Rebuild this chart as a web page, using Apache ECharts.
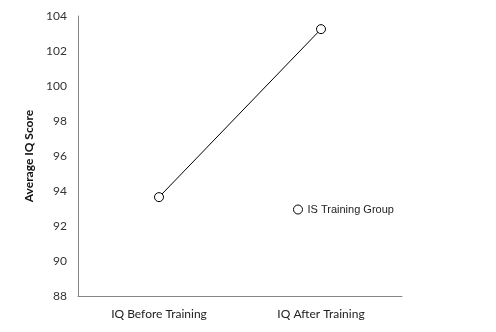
<!DOCTYPE html>
<html><head><meta charset="utf-8">
<script src="https://cdn.jsdelivr.net/npm/echarts@6/dist/echarts.min.js"></script>
<style>html,body{margin:0;padding:0;background:#fff}#c{width:496px;height:332px}</style>
</head><body><div id="c"></div>
<script>
const categories = ['IQ Before Training', 'IQ After Training'];
const seriesName = 'IS Training Group';
const avgIQ = [93.65, 103.25];
const yTicks = { min: 88, max: 104, interval: 2 };

const chart = echarts.init(document.getElementById('c'), null, { renderer: 'canvas' });
chart.setOption({
  animation: false,
  backgroundColor: '#fff',
  grid: { left: 78, right: 94, top: 16, bottom: 36 },
  xAxis: {
    type: 'category', data: categories, boundaryGap: true,
    axisLine: { lineStyle: { color: '#868686', width: 1 } },
    axisTick: { show: false },
    axisLabel: { color: '#222', fontFamily: 'Lato', fontSize: 12, margin: 12 }
  },
  yAxis: {
    type: 'value', min: yTicks.min, max: yTicks.max, interval: yTicks.interval,
    name: 'Average IQ Score', nameLocation: 'middle', nameGap: 37, nameRotate: 90,
    nameTextStyle: { color: '#111', fontFamily: 'Lato', fontWeight: 'bold', fontSize: 12 },
    axisLine: { show: true, lineStyle: { color: '#868686', width: 1 } },
    axisTick: { show: false },
    splitLine: { show: false },
    axisLabel: { color: '#333', fontFamily: 'Lato', fontSize: 12, margin: 11 }
  },
  legend: {
    left: 288, top: 199, icon: 'circle', itemWidth: 9, itemHeight: 9, itemGap: 5,
    textStyle: { fontFamily: 'Liberation Sans', fontSize: 11, color: '#222' },
    data: [{ name: seriesName, itemStyle: { color: '#fff', borderColor: '#000', borderWidth: 1 } }]
  },
  series: [{
    name: seriesName, type: 'line', data: avgIQ,
    symbol: 'circle', symbolSize: 9,
    lineStyle: { color: '#000', width: 1 },
    itemStyle: { color: '#fff', borderColor: '#000', borderWidth: 1 }
  }]
});
</script></body></html>
